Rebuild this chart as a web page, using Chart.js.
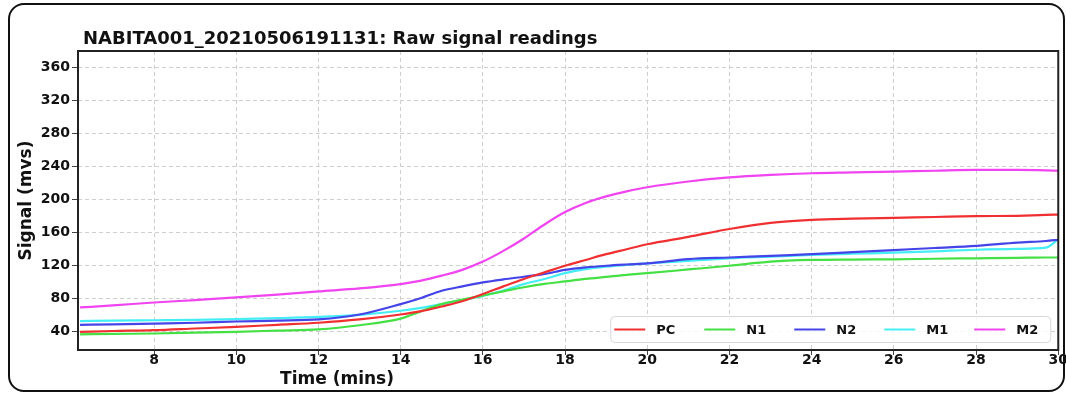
<!DOCTYPE html>
<html lang="en">
<head>
    <meta charset="UTF-8">
    <title>Raw signal readings</title>
    <script src="https://cdn.jsdelivr.net/npm/chart.js"></script>
    <style>
        body { margin: 0; background: #fff; }
        .wrap { position: relative; width: 1066px; height: 394px; }
        .frame {
            position: absolute; left: 8px; top: 3px; width: 1053px; height: 385px;
            border: 2px solid #111; border-radius: 16px; pointer-events: none;
        }
        canvas { position: absolute; left: 0; top: 0; }
    </style>
</head>
<body>
<div class="wrap">
    <canvas id="signalChart" width="1066" height="394"></canvas>
    <div class="frame"></div>
</div>

<script>
    // time points (mins)
    const times = [6.2, 7, 8, 9, 10, 11, 12, 13, 14, 14.5, 15, 15.5, 16, 16.5, 17, 17.5, 18, 18.5, 19, 19.5,
                   20, 21, 22, 23, 24, 25, 26, 27, 28, 29, 29.7, 30];

    // signal values
    const pc = [40, 41, 42, 44, 46, 48.5, 51, 55, 61, 65, 70.7, 77, 85.7, 95, 104, 112, 120, 127, 134, 140,
                146, 155, 164.5, 172, 175.5, 177, 178, 179, 180, 180.5, 181.5, 182];
    const n1 = [37, 37.5, 38, 39, 40, 41.5, 43, 48, 56, 65, 73.6, 79, 84, 89, 94, 98, 101, 104, 106.5, 109,
                111, 115.5, 120, 125, 127, 127.5, 127.8, 128.5, 129, 129.5, 130, 130];
    const n2 = [48.5, 49, 50, 51, 52.5, 53.5, 55, 61, 73.6, 81, 89.7, 95, 99.8, 103.5, 106.7, 110, 115, 118, 120, 121.5,
                122.8, 128, 130, 132, 134, 136.5, 139, 141.5, 144, 148, 150, 151.5];
    const m1 = [53, 53.5, 54, 54.5, 55.4, 56.5, 58, 60.6, 65.5, 69, 73.6, 78.5, 83.6, 90, 97.8, 104, 111, 116, 119, 121,
                122.8, 126, 129, 131, 133, 134.5, 135.8, 137.5, 139.4, 140.5, 142, 152];
    const m2 = [69.5, 72, 75.5, 78.5, 81.6, 85, 88.9, 92.5, 97.8, 102, 108, 115, 125, 138, 153, 170, 185, 196, 204, 210,
                215, 222, 227, 230, 232, 233, 234, 235, 236, 236, 235.5, 235];

    const seriesNames = ['PC', 'N1', 'N2', 'M1', 'M2'];
    const seriesColors = ['#f03030', '#44e044', '#4444e8', '#44eef4', '#f044f0'];
    const xTicks = [8, 10, 12, 14, 16, 18, 20, 22, 24, 26, 28, 30];
    const yTicks = [40, 80, 120, 160, 200, 240, 280, 320, 360];

    const FONT = 'DejaVu Sans';
    const allSeries = [pc, n1, n2, m1, m2];

    const datasets = allSeries.map((vals, i) => ({
        label: seriesNames[i],
        data: vals.map((v, k) => ({ x: times[k], y: v })),
        borderColor: seriesColors[i],
        borderWidth: 2.2,
        pointRadius: 0,
        fill: false,
        cubicInterpolationMode: 'monotone'
    }));

    // titles, plot frame and legend box
    const decorations = {
        id: 'decorations',
        afterDraw(chart) {
            const ctx = chart.ctx;
            const a = chart.chartArea;
            ctx.save();

            ctx.strokeStyle = '#222';
            ctx.lineWidth = 2;
            ctx.strokeRect(a.left, a.top, a.right - a.left, a.bottom - a.top);

            ctx.fillStyle = '#111';
            ctx.font = 'bold 18px ' + FONT;
            ctx.textBaseline = 'middle';
            ctx.textAlign = 'left';
            ctx.fillText('NABITA001_20210506191131: Raw signal readings', 83, 39);

            ctx.font = 'bold 17px ' + FONT;
            ctx.textAlign = 'center';
            ctx.fillText('Time (mins)', 337, 380);

            ctx.translate(27, (a.top + a.bottom) / 2);
            ctx.rotate(-Math.PI / 2);
            ctx.fillText('Signal (mvs)', 0, 0);
            ctx.restore();

            // legend
            ctx.save();
            const boxW = 440, boxH = 26;
            const bx = a.right - 8 - boxW, by = a.bottom - 8 - boxH;
            ctx.fillStyle = 'rgba(255,255,255,0.85)';
            ctx.strokeStyle = '#d8d8d8';
            ctx.lineWidth = 1;
            ctx.beginPath();
            ctx.roundRect(bx + 0.5, by + 0.5, boxW, boxH, 4);
            ctx.fill();
            ctx.stroke();
            ctx.font = 'bold 13px ' + FONT;
            ctx.textAlign = 'left';
            ctx.textBaseline = 'middle';
            chart.data.datasets.forEach((ds, i) => {
                const lx = bx + 4 + i * 90;
                const ly = by + boxH / 2 + 0.5;
                ctx.strokeStyle = ds.borderColor;
                ctx.lineWidth = 2;
                ctx.beginPath();
                ctx.moveTo(lx, ly);
                ctx.lineTo(lx + 31, ly);
                ctx.stroke();
                ctx.fillStyle = '#111';
                ctx.fillText(ds.label, lx + 42, ly + 1);
            });
            ctx.restore();
        }
    };

    const config = {
        type: 'line',
        data: { datasets: datasets },
        options: {
            responsive: false,
            animation: false,
            devicePixelRatio: 1,
            layout: { padding: { left: 0, top: 51, right: 7, bottom: 0 } },
            plugins: {
                legend: { display: false },
                title: { display: false },
                tooltip: { enabled: false }
            },
            scales: {
                x: {
                    type: 'linear',
                    min: 6.15,
                    max: 30,
                    afterBuildTicks: s => { s.ticks = xTicks.map(v => ({ value: v })); },
                    afterFit: s => { s.height = 44; },
                    grid: { color: '#cfcfcf', tickColor: '#444', tickLength: 5 },
                    border: { display: false, dash: [4, 3] },
                    ticks: {
                        color: '#111',
                        padding: -2,
                        maxRotation: 0,
                        font: { family: FONT, size: 14, weight: 'bold', lineHeight: 1 }
                    }
                },
                y: {
                    type: 'linear',
                    min: 18,
                    max: 380,
                    afterBuildTicks: s => { s.ticks = yTicks.map(v => ({ value: v })); },
                    afterFit: s => { s.width = 78; },
                    grid: { color: '#cfcfcf', tickColor: '#444', tickLength: 6 },
                    border: { display: false, dash: [4, 3] },
                    ticks: {
                        color: '#111',
                        padding: 2,
                        font: { family: FONT, size: 14, weight: 'bold' }
                    }
                }
            }
        },
        plugins: [decorations]
    };

    const signalChart = new Chart(document.getElementById('signalChart'), config);
</script>
</body>
</html>
